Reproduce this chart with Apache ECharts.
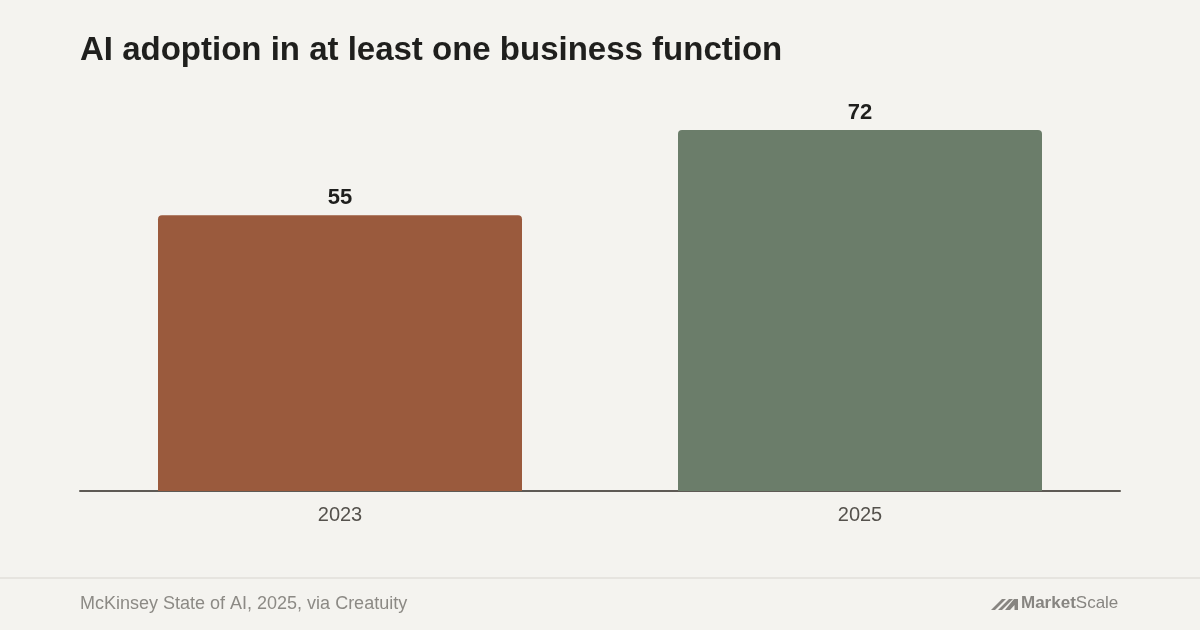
<!DOCTYPE html>
<html><head><meta charset="utf-8">
<script src="https://cdn.jsdelivr.net/npm/echarts@6/dist/echarts.min.js"></script>
<style>html,body{margin:0;padding:0;background:#f4f3ef}#c{width:1200px;height:630px}</style>
</head><body><div id="c"></div>
<script>
const categories = ['2023', '2025'];
const values = [55, 72];
const barColors = ['#9a5a3d', '#6b7d6a'];
const titleText = 'AI adoption in at least one business function';
const sourceText = 'McKinsey State of AI, 2025, via Creatuity';

const chart = echarts.init(document.getElementById('c'));
const font = '"Liberation Sans", Arial, Helvetica, sans-serif';
const logoColor = '#878581';
chart.setOption({
  backgroundColor: '#f4f3ef',
  animation: false,
  title: {
    text: titleText, left: 75, top: 29,
    textStyle: { fontFamily: font, fontSize: 33, fontWeight: 'bold', color: '#1f1f1d' }
  },
  grid: { left: 80, right: 80, top: 90, bottom: 139 },
  xAxis: {
    type: 'category', data: categories,
    axisLine: { lineStyle: { color: '#5e5a55', width: 2 } },
    axisTick: { show: false },
    axisLabel: { fontFamily: font, fontSize: 20, color: '#55524d', margin: 14 }
  },
  yAxis: { type: 'value', min: 0, max: 80, show: false, splitLine: { show: false } },
  series: [{
    type: 'bar', barWidth: '70%',
    data: values.map((v, i) => ({ value: v, itemStyle: { color: barColors[i] } })),
    itemStyle: { borderRadius: [4, 4, 0, 0] },
    label: { show: true, position: 'top', distance: 6, fontFamily: font, fontSize: 22, fontWeight: 'bold', color: '#1f1f1d' }
  }],
  graphic: [
    { type: 'rect', shape: { x: 0, y: 577, width: 1200, height: 2 }, style: { fill: '#e6e4df' }, silent: true },
    { type: 'text', left: 80, top: 595, style: { text: sourceText, font: '18px ' + font, fill: '#8c8a85' } },
    { type: 'polygon', shape: { points: [[991,610],[1002,599],[1006,599],[995,610]] }, style: { fill: logoColor } },
    { type: 'polygon', shape: { points: [[998,610],[1009,599],[1013,599],[1002,610]] }, style: { fill: logoColor } },
    { type: 'polygon', shape: { points: [[1005,610],[1014,599],[1018,599],[1018,610],[1014.5,610],[1014.5,605],[1010,610]] }, style: { fill: logoColor } },
    { type: 'text', left: 1021, top: 595, style: {
        text: '{b|Market}{r|Scale}',
        rich: {
          b: { font: 'bold 17px ' + font, fill: logoColor, color: logoColor },
          r: { font: '17px ' + font, fill: logoColor, color: logoColor }
        }
    } }
  ]
});
</script></body></html>
